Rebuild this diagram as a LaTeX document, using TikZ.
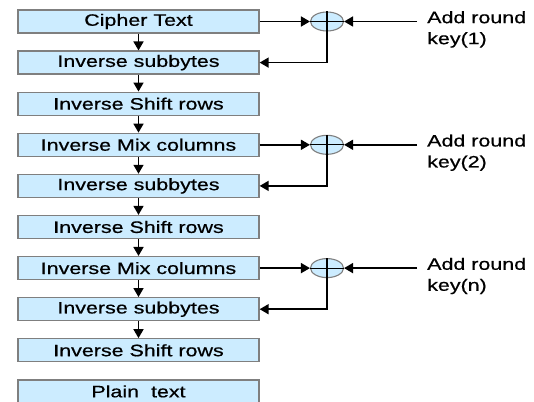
\documentclass[tikz,border=0pt]{standalone}
\usepackage{fontspec}
\setmainfont[FakeStretch=1.3, FakeBold=0.6]{Liberation Sans}
\usetikzlibrary{shapes.geometric, arrows.meta, positioning}

\definecolor{boxblue}{HTML}{CCECFF}
\definecolor{boxedge}{HTML}{7F7F7F}

\begin{document}
\begin{tikzpicture}[
    x=1pt, y=-1pt,
    stage/.style={rectangle, draw=boxedge, line width=1.3pt, fill=boxblue, minimum width=241pt, minimum height=23pt, inner sep=0pt, font=\fontsize{16.5}{19}\selectfont},
    xor/.style={ellipse, draw=boxedge, line width=1.1pt, fill=boxblue, minimum width=33pt, minimum height=19pt, inner sep=0pt},
    keytext/.style={align=left, inner sep=0pt, anchor=north west, font=\fontsize{16.5}{21}\selectfont},
    arrow/.style={-{Triangle[length=9pt,width=10pt]}, line width=1.6pt}
  ]
  \useasboundingbox (0,0) rectangle (534,401);

  % Decryption stages
  \node[stage] (cipher) at (138.5,21.5) {Cipher Text};
  \node[stage] (sub1) at (138.5,62.6) {Inverse subbytes};
  \node[stage] (shift1) at (138.5,103.7) {Inverse Shift rows};
  \node[stage] (mix1) at (138.5,144.8) {Inverse Mix columns};
  \node[stage] (sub2) at (138.5,185.9) {Inverse subbytes};
  \node[stage] (shift2) at (138.5,227) {Inverse Shift rows};
  \node[stage] (mix2) at (138.5,268.1) {Inverse Mix columns};
  \node[stage] (sub3) at (138.5,309.2) {Inverse subbytes};
  \node[stage] (shift3) at (138.5,350.3) {Inverse Shift rows};
  \node[stage] (plain) at (138.5,391.4) {Plain~ text};

  % Arrows down the chain
  \draw[arrow] (cipher) -- (sub1);
  \draw[arrow] (sub1) -- (shift1);
  \draw[arrow] (shift1) -- (mix1);
  \draw[arrow] (mix1) -- (sub2);
  \draw[arrow] (sub2) -- (shift2);
  \draw[arrow] (shift2) -- (mix2);
  \draw[arrow] (mix2) -- (sub3);
  \draw[arrow] (sub3) -- (shift3);

  % Round key XORs
  \node[xor] (xor1) at (327,21.5) {};
  \node[xor] (xor2) at (327,144.8) {};
  \node[xor] (xor3) at (327,268.1) {};

  \node[keytext] (key1) at (427,11) {Add round\\key(1)};
  \node[keytext] (key2) at (427,134.3) {Add round\\key(2)};
  \node[keytext] (key3) at (427,257.6) {Add round\\key(n)};

  \foreach \x in {1,2,3} {
      \draw[line width=1.1pt] (xor\x.north) -- (xor\x.south);
      \draw[line width=1.1pt] (xor\x.west) -- (xor\x.east);
      \draw[arrow] ([xshift=-10pt]key\x.west |- xor\x) -- (xor\x.east);
    }

  \draw[arrow] (cipher.east) -- (xor1.west);
  \draw[arrow] (mix1.east) -- (xor2.west);
  \draw[arrow] (mix2.east) -- (xor3.west);

  \draw[arrow] (xor1.south) |- (sub1.east);
  \draw[arrow] (xor2.south) |- (sub2.east);
  \draw[arrow] (xor3.south) |- (sub3.east);

\end{tikzpicture}
\end{document}
